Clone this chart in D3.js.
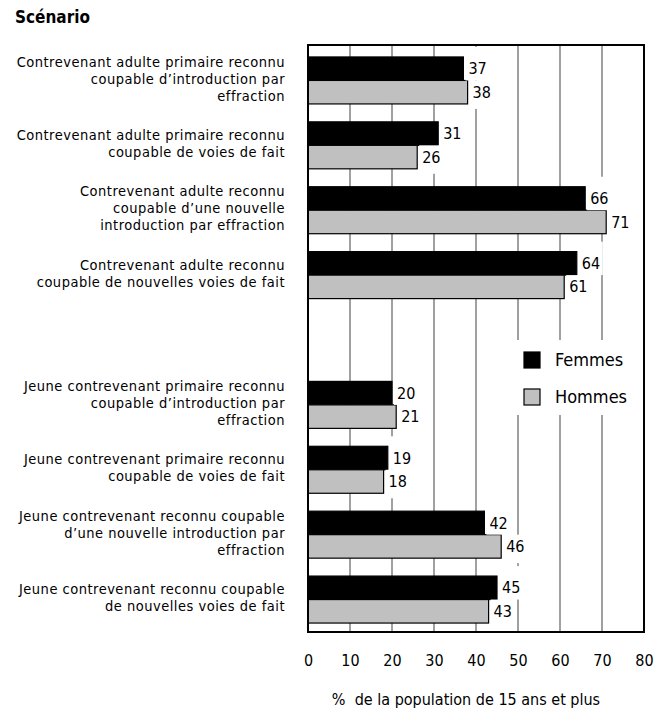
<!DOCTYPE html>
<html><head><meta charset="utf-8">
<script src="https://cdn.jsdelivr.net/npm/d3@7"></script>
<style>
body{margin:0;background:#fff}
svg{display:block}
text{font-family:"DejaVu Sans Condensed","Liberation Sans Narrow",sans-serif;fill:#000}
</style>
</head><body>
<svg id="c" width="672" height="713"></svg>
<script>
const categories = [
  ["Contrevenant adulte primaire reconnu","coupable d’introduction par","effraction"],
  ["Contrevenant adulte primaire reconnu","coupable de voies de fait"],
  ["Contrevenant adulte reconnu","coupable d’une nouvelle","introduction par effraction"],
  ["Contrevenant adulte reconnu","coupable de nouvelles voies de fait"],
  ["Jeune contrevenant primaire reconnu","coupable d’introduction par","effraction"],
  ["Jeune contrevenant primaire reconnu","coupable de voies de fait"],
  ["Jeune contrevenant reconnu coupable","d’une nouvelle introduction par","effraction"],
  ["Jeune contrevenant reconnu coupable","de nouvelles voies de fait"]
];
const femmes = [37, 31, 66, 64, 20, 19, 42, 45];
const hommes = [38, 26, 71, 61, 21, 18, 46, 43];
const seriesNames = ["Femmes", "Hommes"];
const xTicks = [0, 10, 20, 30, 40, 50, 60, 70, 80];
const titleText = "Scénario";
const xTitle = "%  de la population de 15 ans et plus";

const svg = d3.select("#c");
const L = 308, R = 644, T = 45, B = 632;
const x = d3.scaleLinear().domain([0, 80]).range([L, R]);
const keys = categories.map((c, i) => "c" + i);
const slotDomain = [...keys.slice(0, 4), "gap", ...keys.slice(4)];
const y = d3.scaleBand().domain(slotDomain).range([48, 632]);
const bw = y.bandwidth();
const barH = bw * 0.362;
const off = (bw - 2 * barH) / 2;

const data = categories.map((c, i) => ({key: keys[i], lines: c, f: femmes[i], h: hommes[i]}));

// gridlines
svg.append("g").selectAll("line").data(xTicks.filter(t => t > 0 && t < 80)).join("line")
  .attr("x1", d => x(d)).attr("x2", d => x(d)).attr("y1", T).attr("y2", B)
  .attr("stroke", "#808080").attr("stroke-width", 1.5);

// bars
const g = svg.append("g");
const series = [
  {name: seriesNames[0], get: d => d.f, idx: 0, fill: "#000"},
  {name: seriesNames[1], get: d => d.h, idx: 1, fill: "#c0c0c0"}
];
series.forEach(s => {
  g.append("g").selectAll("rect").data(data).join("rect")
    .attr("x", x(0)).attr("y", d => y(d.key) + off + s.idx * barH)
    .attr("width", d => x(s.get(d)) - x(0)).attr("height", barH)
    .attr("fill", s.fill).attr("stroke", "#000").attr("stroke-width", 1.2);
});

// value labels with white backgrounds
series.forEach(s => {
  const lg = g.append("g").selectAll("g").data(data).join("g")
    .attr("transform", d => `translate(${x(s.get(d)) + 5},${y(d.key) + off + s.idx * barH + barH / 2})`);
  lg.append("rect").attr("x", -3).attr("y", s.idx === 0 ? -barH/2 - 10 : -barH/2)
    .attr("width", 24).attr("height", s.idx === 0 ? barH + 10 : barH + 5).attr("fill", "#fff");
  lg.append("text").attr("dy", "0.35em").attr("font-size", 16).text(d => s.get(d));
});

// category labels
data.forEach(d => {
  const cy = y(d.key) + bw / 2 - 2;
  const n = d.lines.length, lh = 17;
  const t = svg.append("text").attr("text-anchor", "end").attr("font-size", 14.5)
    .attr("letter-spacing", "0.5px");
  d.lines.forEach((ln, j) => {
    t.append("tspan").attr("x", 285).attr("y", cy + (j - (n - 1) / 2) * lh).attr("dy", "0.35em").text(ln);
  });
});

// legend
const leg = svg.append("g");
leg.append("rect").attr("x", 506).attr("y", 340).attr("width", 134).attr("height", 75).attr("fill", "#fff");
series.forEach((s, i) => {
  const yy = 352 + i * 37;
  leg.append("rect").attr("x", 524).attr("y", yy).attr("width", 16).attr("height", 16)
    .attr("fill", s.fill).attr("stroke", "#000").attr("stroke-width", 1.2);
  leg.append("text").attr("x", 555).attr("y", yy + 8).attr("dy", "0.35em").attr("font-size", 18).text(s.name);
});

// frame
svg.append("rect").attr("x", L).attr("y", T).attr("width", R - L).attr("height", B - T)
  .attr("fill", "none").attr("stroke", "#000").attr("stroke-width", 2);

// x axis labels
const ax = svg.append("g").attr("transform", `translate(0,${B})`)
  .call(d3.axisBottom(x).tickValues(xTicks).tickSize(0).tickPadding(23));
ax.select(".domain").remove();
ax.selectAll("text").attr("font-size", 16).attr("font-family", null).style("fill", "#000");

svg.append("text").attr("x", 466).attr("y", 705).attr("text-anchor", "middle").attr("font-size", 16)
  .style("white-space", "pre").text(xTitle);

svg.append("text").attr("x", 15).attr("y", 23).attr("font-size", 17).attr("font-weight", "bold").text(titleText);
</script>
</body></html>
